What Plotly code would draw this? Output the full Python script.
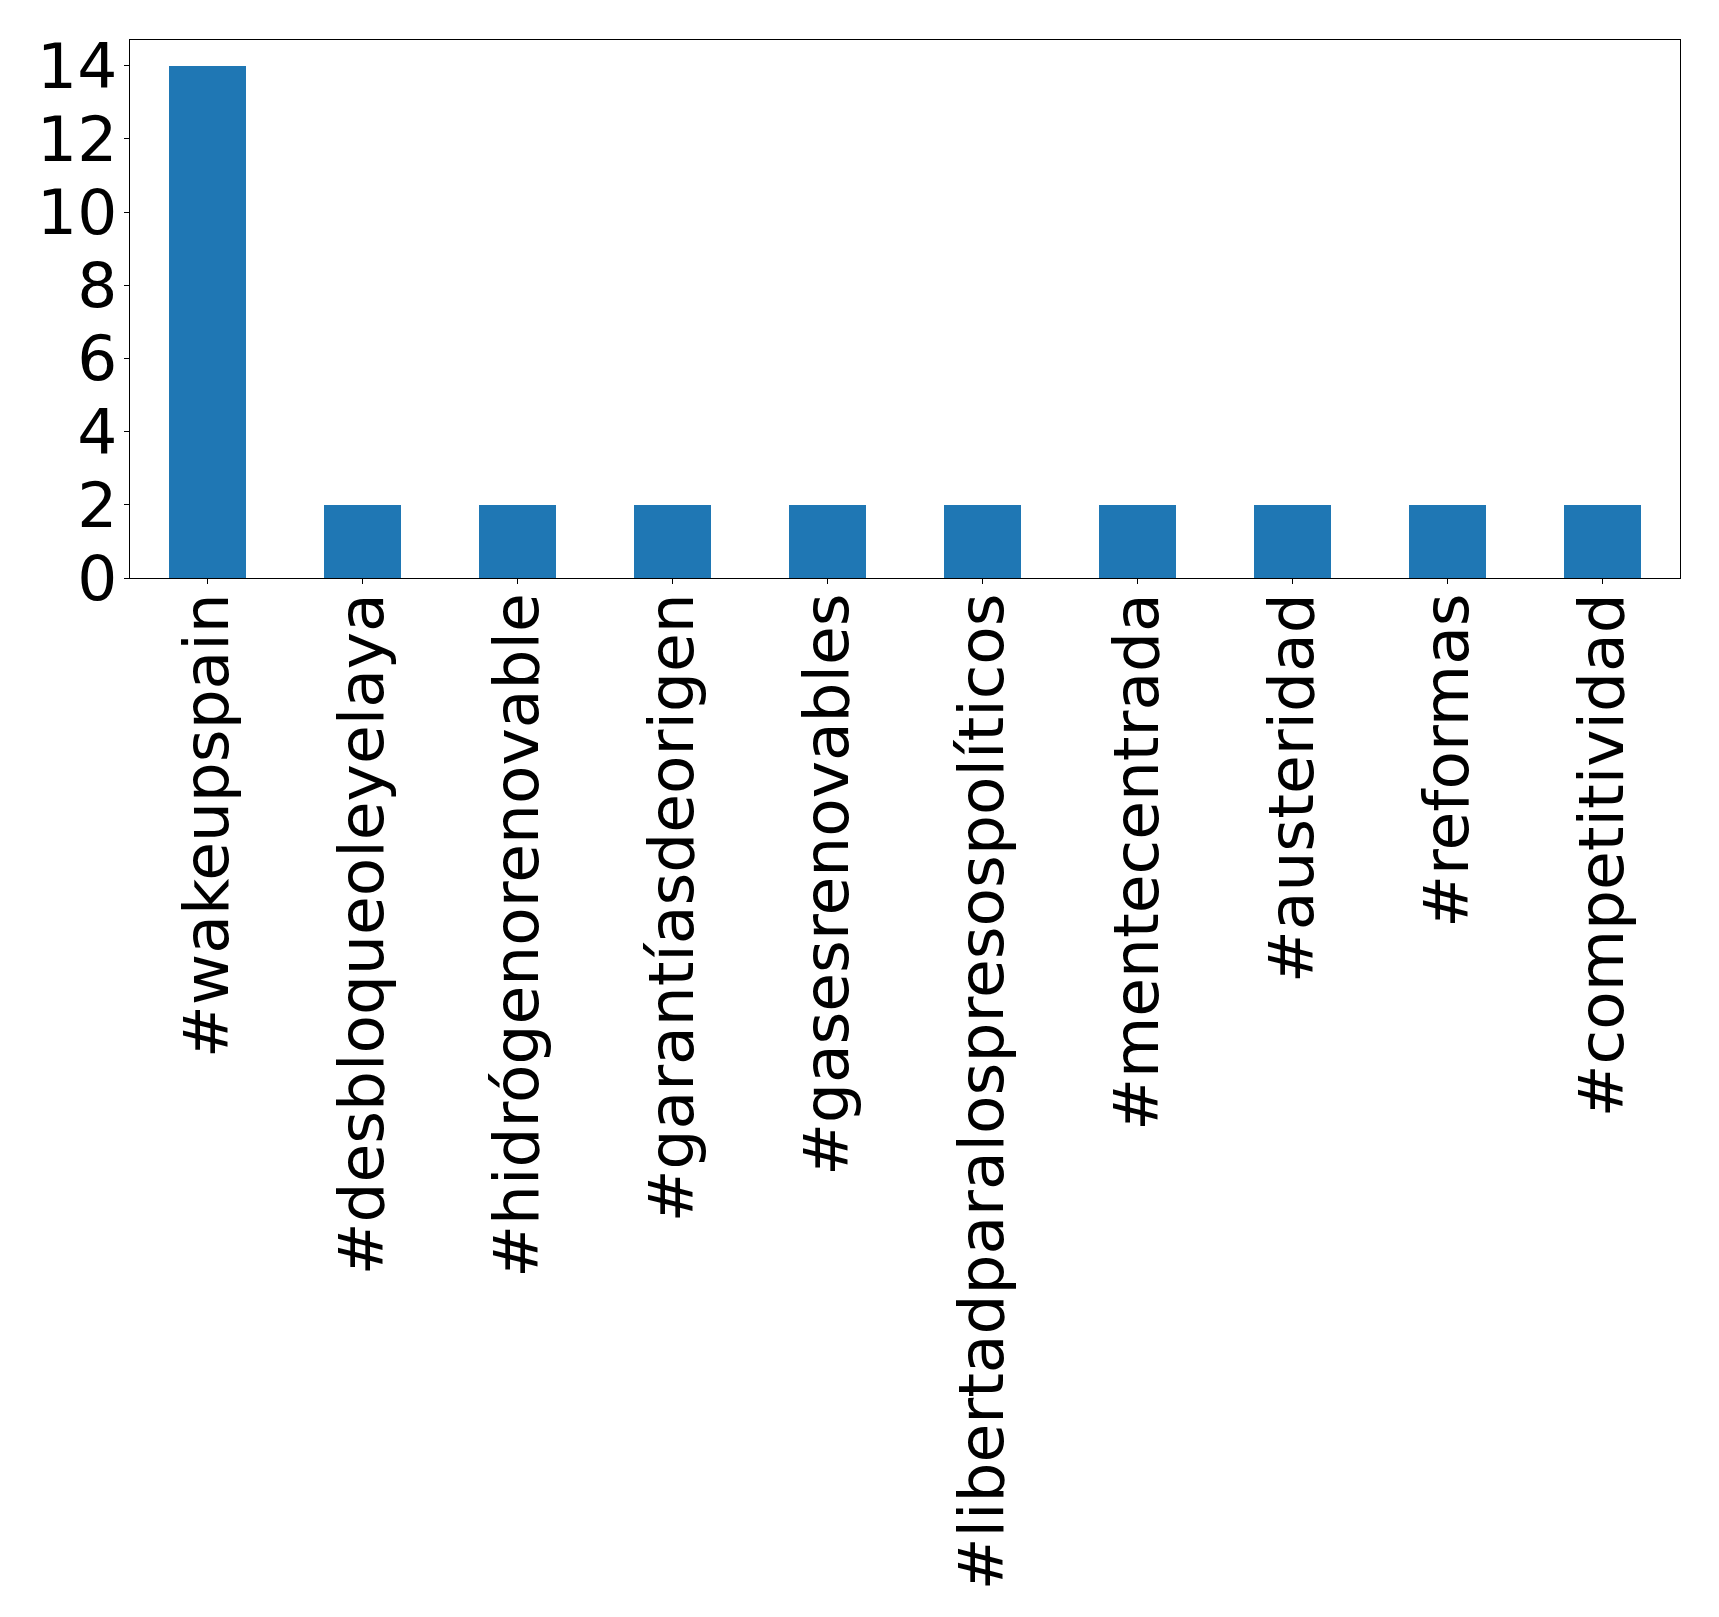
import plotly.graph_objects as go

categories = ["#wakeupspain", "#desbloqueoleyelaya", "#hidrógenorenovable",
              "#garantíasdeorigen", "#gasesrenovables", "#libertadparalospresospolíticos",
              "#mentecentrada", "#austeridad", "#reformas", "#competitividad"]
values = [14, 2, 2, 2, 2, 2, 2, 2, 2, 2]
y_ticks = [0, 2, 4, 6, 8, 10, 12, 14]

fig = go.Figure(go.Bar(x=list(range(len(categories))), y=values, width=0.5,
                       marker=dict(color="#1f77b4", line=dict(width=0))))

font = dict(family="DejaVu Sans", size=63, color="black")
fig.update_layout(
    width=1719, height=1617,
    margin=dict(l=129.5, r=39.3, t=39.5, b=1039, pad=0),
    plot_bgcolor="white", paper_bgcolor="white",
    font=font, showlegend=False,
    bargap=0,
)
fig.update_xaxes(
    range=[-0.5, 9.5], tickmode="array", tickvals=list(range(len(categories))),
    ticktext=categories, tickangle=-90, ticks="outside", ticklen=5, tickwidth=1,
    tickcolor="black", showline=True, linecolor="black", linewidth=1.3, mirror=True,
    showgrid=False, zeroline=False, tickfont=font, ticklabelstandoff=-16,
)
fig.update_yaxes(
    range=[0, 14.7], tickmode="array", tickvals=y_ticks,
    ticks="outside", ticklen=5, tickwidth=1, tickcolor="black",
    showline=True, linecolor="black", linewidth=1.3, mirror=True,
    showgrid=False, zeroline=False, tickfont=font, ticklabelstandoff=-6,
)
fig.write_html("out.html")
